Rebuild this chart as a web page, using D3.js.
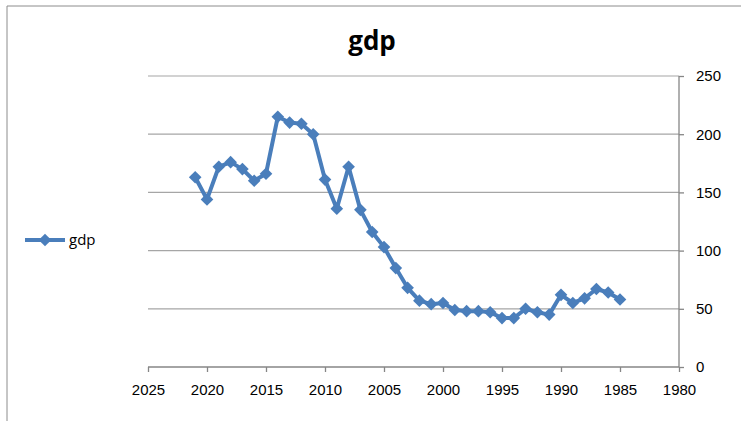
<!DOCTYPE html>
<html>
<head>
<meta charset="utf-8">
<script src="https://cdn.jsdelivr.net/npm/d3@7"></script>
<style>
body { margin:0; background:#fff; }
svg { display:block; font-family:"Open Sans", "Liberation Sans", sans-serif; }
</style>
</head>
<body>
<div id="chart"></div>
<script>
var w = 741, h = 421;

// data
var years = [2021,2020,2019,2018,2017,2016,2015,2014,2013,2012,2011,2010,2009,2008,2007,2006,2005,2004,2003,2002,2001,2000,1999,1998,1997,1996,1995,1994,1993,1992,1991,1990,1989,1988,1987,1986,1985];
var gdp = [163,144,172,176,170,160,166,215,210,209,200,161,136,172,135,116,103,85,68,57,54,55,49,48,48,47,42,42,50,47,45,62,55,59,67,64,58];
var xTicks = [2025,2020,2015,2010,2005,2000,1995,1990,1985,1980];
var yTicks = [0,50,100,150,200,250];

var blue = "#4a7ebb";

var svg = d3.select("#chart").append("svg").attr("width", w).attr("height", h);

// outer frame of the chart
svg.append("line").attr("x1",7).attr("y1",6).attr("x2",741).attr("y2",6).style("stroke","#8c8c8c");
svg.append("line").attr("x1",7).attr("y1",6).attr("x2",7).attr("y2",421).style("stroke","#8c8c8c");

var x = d3.scaleLinear().domain([2025,1980]).range([148,679]);
var y = d3.scaleLinear().domain([0,250]).range([367,76]);

// gridlines
svg.selectAll(".grid").data(yTicks.slice(1)).enter().append("line")
	.attr("x1", x(2025)).attr("x2", x(1980))
	.attr("y1", function(d){ return y(d); }).attr("y2", function(d){ return y(d); })
	.style("stroke","#a6a6a6").style("stroke-width",1.2);

// x axis
var xAxis = svg.append("g").attr("transform","translate(0,"+y(0)+")")
	.call(d3.axisBottom(x).tickValues(xTicks).tickFormat(d3.format("d")).tickSize(5).tickPadding(12));
// y axis on the right
var yAxis = svg.append("g").attr("transform","translate("+x(1980)+",0)")
	.call(d3.axisRight(y).tickValues(yTicks).tickSize(5).tickPadding(12));

svg.selectAll(".domain").style("stroke","#868686").style("stroke-width",1.3);
svg.selectAll(".tick line").style("stroke","#868686").style("stroke-width",1.3);
svg.selectAll(".tick text").style("font-size","15px").style("fill","#000");
xAxis.select(".domain").attr("d","M"+x(2025)+",0H"+x(1980));
yAxis.select(".domain").attr("d","M0,"+y(250)+"V"+y(0));

// series
var pts = years.map(function(d,i){ return [d, gdp[i]]; });
var line = d3.line().x(function(d){ return x(d[0]); }).y(function(d){ return y(d[1]); });
svg.append("path").datum(pts).attr("d", line)
	.style("fill","none").style("stroke",blue).style("stroke-width",4).style("stroke-linejoin","round");

// square turned 45 degrees, like the Excel diamond marker
var diamond = d3.symbol().type(d3.symbolSquare).size(80);
svg.selectAll(".pt").data(pts).enter().append("path")
	.attr("d", diamond)
	.attr("transform", function(d){ return "translate("+x(d[0])+","+y(d[1])+") rotate(45)"; })
	.style("fill",blue);

// title
svg.append("text").attr("x",372).attr("y",50).attr("text-anchor","middle")
	.style("font-size","26px").style("font-weight","bold").style("fill","#000").text("gdp");

// legend
svg.append("line").attr("x1",25).attr("x2",65).attr("y1",240).attr("y2",240)
	.style("stroke",blue).style("stroke-width",4);
svg.append("path").attr("d",diamond).attr("transform","translate(45,240) rotate(45)").style("fill",blue);
svg.append("text").attr("x",69).attr("y",245).style("font-size","15px").style("fill","#000").text("gdp");
</script>
</body>
</html>
